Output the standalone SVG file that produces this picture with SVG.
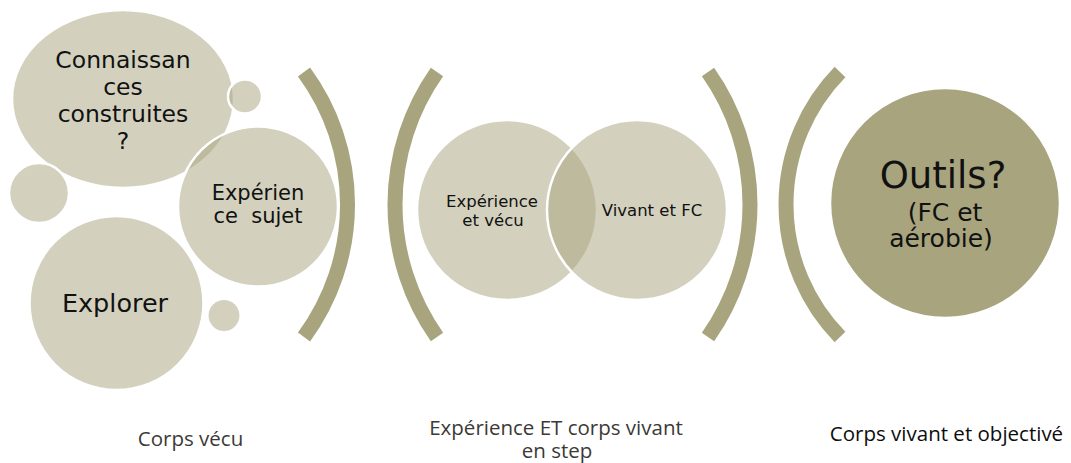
<svg xmlns="http://www.w3.org/2000/svg" width="1071" height="463" viewBox="0 0 1071 463">
<defs>
<style>
.lt{fill:#A8A47D;fill-opacity:0.5;stroke:#FFFFFF;stroke-width:2.5}
.dk{fill:#A8A47D;stroke:#FFFFFF;stroke-width:2.5}
.br{fill:none;stroke:#A8A57E;stroke-width:15;stroke-linecap:butt}
.t{font-family:"DejaVu Sans","Liberation Sans",sans-serif;fill:#111111;text-anchor:middle}
.b{font-family:"Open Sans","Liberation Sans",sans-serif;font-size:20.5px;text-anchor:middle}
</style>
</defs>
<rect width="1071" height="463" fill="#FFFFFF"/>

<g id="brackets">
<path class="br" d="M 304 72 A 223.5 223.5 0 0 1 304 337"/>
<path class="br" d="M 437 72 A 230 230 0 0 0 437 337"/>
<path class="br" d="M 708 72 A 230 230 0 0 1 708 337"/>
<path class="br" d="M 840 72 A 189.6 189.6 0 0 0 840 337"/>
</g>

<g id="connaissances">
<ellipse class="lt" cx="123" cy="99" rx="111" ry="89"/>
<text class="t" font-size="23.5" x="123" y="68">Connaissan</text>
<text class="t" font-size="23.5" x="123" y="95">ces</text>
<text class="t" font-size="23.5" x="123" y="122">construites</text>
<text class="t" font-size="23.5" x="123" y="149">?</text>
</g>

<g id="bubble-top">
<circle class="lt" cx="245" cy="96.5" r="17"/>
</g>
<g id="bubble-left">
<circle class="lt" cx="39" cy="193" r="30"/>
</g>

<g id="explorer">
<circle class="lt" cx="116.5" cy="303" r="87"/>
<text class="t" font-size="25.5" x="115" y="312">Explorer</text>
</g>

<g id="bubble-bottom">
<circle class="lt" cx="224" cy="315.5" r="16.7"/>
</g>

<g id="experience-sujet">
<circle class="lt" cx="258" cy="206.5" r="80"/>
<text class="t" font-size="21" x="258" y="200">Expérien</text>
<text class="t" font-size="21" x="258" y="223" xml:space="preserve">ce  sujet</text>
</g>

<g id="experience-vecu">
<circle class="lt" cx="507" cy="210" r="90"/>
<text class="t" font-size="16.5" x="492" y="207">Expérience</text>
<text class="t" font-size="16.5" x="493" y="226">et vécu</text>
</g>

<g id="vivant-fc">
<circle class="lt" cx="637" cy="210" r="90"/>
<text class="t" font-size="16.5" x="652" y="216">Vivant et FC</text>
</g>

<g id="outils">
<circle class="dk" cx="945" cy="203" r="115"/>
<text class="t" font-size="37" x="943" y="188">Outils?</text>
<text class="t" font-size="25" x="945" y="221">(FC et</text>
<text class="t" font-size="25" x="941" y="247">aérobie)</text>
</g>

<g id="labels">
<text class="b" x="190.5" y="446" fill="#3B3A36">Corps vécu</text>
<text class="b" x="556" y="435" fill="#3B3A36">Expérience ET corps vivant</text>
<text class="b" x="557" y="458" fill="#3B3A36">en step</text>
<text class="b" x="946.5" y="441" fill="#0D0D0D">Corps vivant et objectivé</text>
</g>
</svg>
